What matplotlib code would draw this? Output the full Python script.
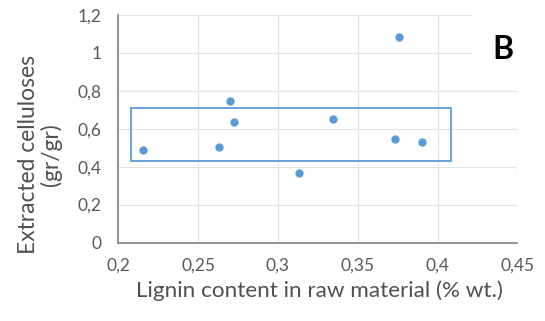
import matplotlib
matplotlib.use("Agg")
import matplotlib.pyplot as plt
from matplotlib.patches import Rectangle

plt.rcParams['font.family'] = ['Lato', 'DejaVu Sans']

# values
lignin = [0.2156, 0.2631, 0.2698, 0.2725, 0.3134, 0.3344, 0.3731, 0.3756, 0.3902]
cellulose = [0.487, 0.502, 0.749, 0.638, 0.366, 0.654, 0.547, 1.084, 0.532]

xticks = [0.2, 0.25, 0.3, 0.35, 0.4, 0.45]
xlabels = ['0,2', '0,25', '0,3', '0,35', '0,4', '0,45']
yticks = [0, 0.2, 0.4, 0.6, 0.8, 1.0, 1.2]
ylabels = ['0', '0,2', '0,4', '0,6', '0,8', '1', '1,2']

# highlighted region (x0, y0, x1, y1)
box = (0.2079, 0.432, 0.4086, 0.711)

blue = '#5b9bd5'
tick_color = '#595959'
label_color = '#505050'

fig = plt.figure(figsize=(5.45, 3.21), dpi=100)
ax = fig.add_axes([118.3 / 545, 1 - 242.5 / 321, (517.3 - 118.3) / 545, (242.5 - 15) / 321])

ax.scatter(lignin, cellulose, s=36, color=blue, zorder=3, linewidths=0)
ax.add_patch(Rectangle((box[0], box[1]), box[2] - box[0], box[3] - box[1],
                       fill=False, edgecolor=blue, linewidth=1.3, zorder=2))

ax.set_xlim(0.2, 0.45)
ax.set_ylim(0, 1.2)
ax.set_xticks(xticks)
ax.set_xticklabels(xlabels)
ax.set_yticks(yticks)
ax.set_yticklabels(ylabels)
ax.tick_params(length=0, labelsize=12.5, labelcolor=tick_color, pad=11)
ax.tick_params(axis='y', pad=12)
ax.grid(True, color='#e3e3e3', linewidth=0.9, zorder=0)
ax.set_axisbelow(True)
for side in ['top', 'right']:
    ax.spines[side].set_visible(False)
for side in ['left', 'bottom']:
    ax.spines[side].set_color('#8c8c8c')
    ax.spines[side].set_linewidth(1.3)

# white text box holding the panel letter
ax.add_patch(Rectangle((471.7 / 545, 1 - 78 / 321), 0.2, 0.3, transform=fig.transFigure,
                       facecolor='white', edgecolor='none', zorder=1))
fig.text(502.7 / 545, 1 - 49.5 / 321, 'B', fontsize=23, fontweight='bold',
         color='black', ha='center', va='center')

fig.text(319 / 545, 1 - 291 / 321, 'Lignin content in raw material (% wt.)',
         fontsize=16.2, color=label_color, ha='center', va='center')
fig.text(40 / 545, 1 - 155 / 321, 'Extracted celluloses\n(gr/gr)',
         fontsize=16.4, color=label_color, ha='center', va='center',
         rotation=90, linespacing=1.1)

fig.savefig('out.png', dpi=100)
